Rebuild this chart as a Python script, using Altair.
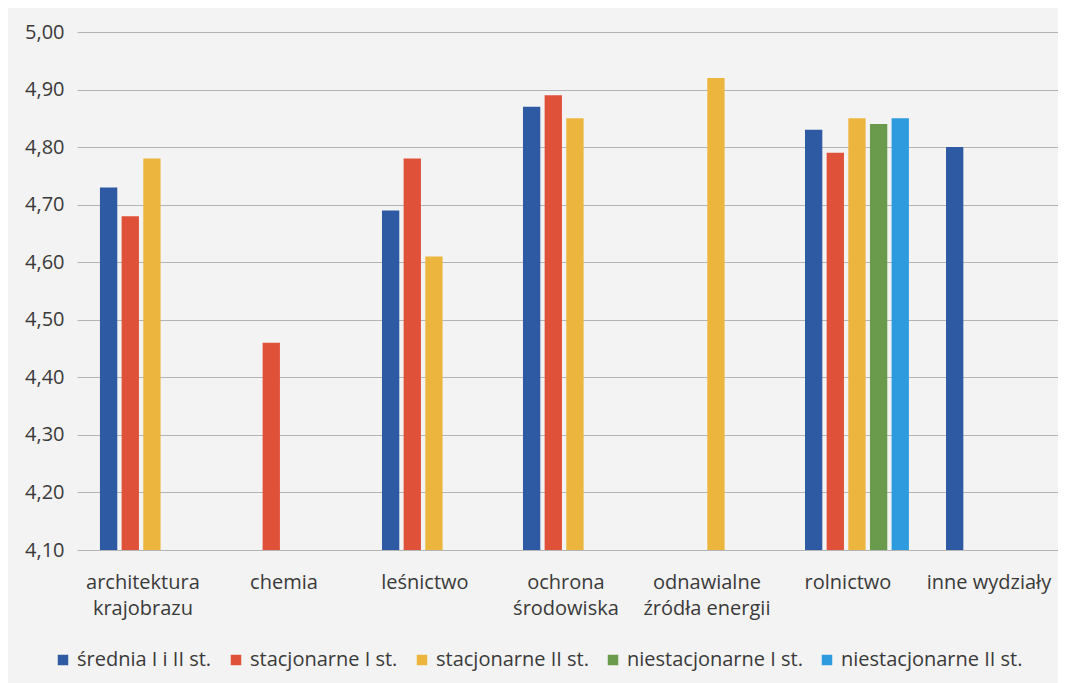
import altair as alt
import pandas as pd

categories = ["architektura krajobrazu", "chemia", "leśnictwo", "ochrona środowiska",
              "odnawialne źródła energii", "rolnictwo", "inne wydziały"]
label_lines = {
    "architektura krajobrazu": ["architektura", "krajobrazu"],
    "ochrona środowiska": ["ochrona", "środowiska"],
    "odnawialne źródła energii": ["odnawialne", "źródła energii"],
}
series = ["średnia I i II st.", "stacjonarne I st.", "stacjonarne II st.",
          "niestacjonarne I st.", "niestacjonarne II st."]
colors = ["#2D5AA2", "#E0513A", "#ECB63E", "#6A9A4B", "#2F9BDF"]

srednia = [4.73, None, 4.69, 4.87, None, 4.83, 4.80]
stac_1 = [4.68, 4.46, 4.78, 4.89, None, 4.79, None]
stac_2 = [4.78, None, 4.61, 4.85, 4.92, 4.85, None]
niestac_1 = [None, None, None, None, None, 4.84, None]
niestac_2 = [None, None, None, None, None, 4.85, None]

y_ticks = [4.10, 4.20, 4.30, 4.40, 4.50, 4.60, 4.70, 4.80, 4.90, 5.00]

rows = []
for s, vals in zip(series, [srednia, stac_1, stac_2, niestac_1, niestac_2]):
    for c, v in zip(categories, vals):
        if v is not None:
            rows.append({"kategoria": c, "seria": s, "wartosc": v})
df = pd.DataFrame(rows)

parts = []
for k, lines in label_lines.items():
    arr = "[" + ",".join("'" + l + "'" for l in lines) + "]"
    parts.append(f"datum.value == '{k}' ? {arr} : ")
x_label_expr = "".join(parts) + "datum.label"

font = "Open Sans"
text_color = "#3a3a3a"

bars = alt.Chart(df).mark_bar().encode(
    x=alt.X("kategoria:N", sort=categories, title=None,
            scale=alt.Scale(paddingInner=0.263, paddingOuter=0.11, align=0.74),
            axis=alt.Axis(labelAngle=0, labelExpr=x_label_expr, labelFontSize=20,
                          labelLineHeight=26, labelPadding=22, labelOffset=-9,
                          ticks=False, domain=False, labelColor=text_color,
                          labelFont=font, labelBaseline="top", labelLimit=300)),
    xOffset=alt.XOffset("seria:N", sort=series, scale=alt.Scale(paddingInner=0.2)),
    y=alt.Y("wartosc:Q", title=None,
            scale=alt.Scale(domain=[4.1, 5.0], nice=False, zero=False),
            axis=alt.Axis(values=y_ticks,
                          labelExpr="replace(format(datum.value, '.2f'), '.', ',')",
                          labelFontSize=20, labelColor=text_color, labelFont=font,
                          labelPadding=13, ticks=False, domain=False,
                          grid=True, gridColor="#b4b4b4", gridWidth=1)),
    y2=alt.datum(4.1),
    color=alt.Color("seria:N", sort=series,
                    scale=alt.Scale(domain=series, range=colors),
                    legend=alt.Legend(title=None, orient="none", direction="horizontal",
                                      legendX=-24, legendY=618,
                                      symbolType="square", symbolSize=110,
                                      symbolStrokeWidth=0, labelLimit=400,
                                      labelFontSize=20, labelFont=font,
                                      labelColor=text_color, columnPadding=14,
                                      labelOffset=4)),
)

chart = bars.properties(
    width=981, height=518,
    background="#f3f3f3",
    padding={"left": 16, "top": 14, "right": 0, "bottom": 16},
).configure_view(stroke=None)

chart.save("out.html", embed_options={"renderer": "svg", "actions": False})
